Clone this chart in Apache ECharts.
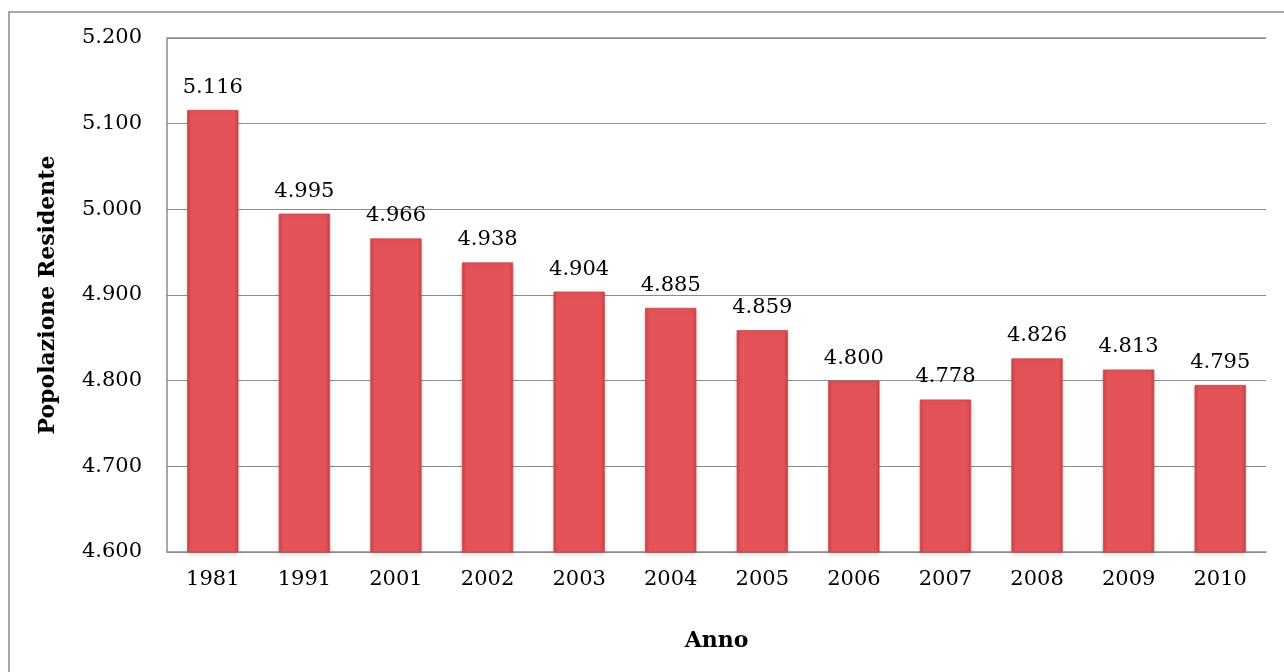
<!DOCTYPE html>
<html>
<head>
<meta charset="utf-8">
<script src="https://cdn.jsdelivr.net/npm/echarts@6/dist/echarts.min.js"></script>
<style>
  html, body { margin: 0; padding: 0; background: #fff; }
  #chart { width: 1284px; height: 672px; }
</style>
</head>
<body>
<div id="chart"></div>
<script>
// dati
const anni = ['1981', '1991', '2001', '2002', '2003', '2004', '2005', '2006', '2007', '2008', '2009', '2010'];
const popolazione = [5116, 4995, 4966, 4938, 4904, 4885, 4859, 4800, 4778, 4826, 4813, 4795];

const yMin = 4600;
const yMax = 5200;
const yStep = 100;

// formato italiano: 5116 -> "5.116"
function fmt(v) {
  return String(v).replace(/\B(?=(\d{3})+(?!\d))/g, '.');
}

const font = '"DejaVu Serif", "Liberation Serif", serif';

const chart = echarts.init(document.getElementById('chart'));

chart.setOption({
  backgroundColor: '#fff',
  animation: false,
  grid: { left: 167, right: 18, top: 38, bottom: 120, containLabel: false },
  // cornice esterna
  graphic: [{
    type: 'rect',
    shape: { x: 9, y: 12, width: 1300, height: 700 },
    style: { fill: 'none', stroke: '#8c8c8c', lineWidth: 1.5 },
    silent: true
  }, {
    type: 'line',
    shape: { x1: 167, y1: 38, x2: 1266, y2: 38 },
    style: { stroke: '#8c8c8c', lineWidth: 1.5 },
    silent: true
  }],
  xAxis: {
    type: 'category',
    data: anni,
    name: 'Anno',
    nameLocation: 'middle',
    nameGap: 78,
    nameTextStyle: { fontFamily: font, fontWeight: 'bold', fontSize: 22, color: '#000' },
    axisLine: { lineStyle: { color: '#8c8c8c', width: 1.5 } },
    axisTick: { show: false },
    axisLabel: { fontFamily: font, fontSize: 21, color: '#000', margin: 17 }
  },
  yAxis: {
    type: 'value',
    min: yMin,
    max: yMax,
    interval: yStep,
    name: 'Popolazione Residente',
    nameLocation: 'middle',
    nameGap: 108,
    nameTextStyle: { fontFamily: font, fontWeight: 'bold', fontSize: 22, color: '#000' },
    axisLine: { show: true, lineStyle: { color: '#8c8c8c', width: 1.5 } },
    axisTick: { show: false },
    axisLabel: { fontFamily: font, fontSize: 21, color: '#000', margin: 25, formatter: fmt },
    splitLine: { lineStyle: { color: '#8c8c8c', width: 1.2 } }
  },
  series: [{
    type: 'bar',
    data: popolazione,
    barWidth: '56%',
    itemStyle: {
      color: new echarts.graphic.LinearGradient(0, 0, 1, 0, [
        { offset: 0, color: '#cf4347' },
        { offset: 0.08, color: '#e35357' },
        { offset: 0.92, color: '#e35357' },
        { offset: 1, color: '#cf4347' }
      ]),
      borderColor: '#c9494b',
      borderWidth: 0.8,
      shadowColor: 'rgba(0,0,0,0.15)',
      shadowBlur: 4,
      shadowOffsetY: 2
    },
    label: {
      show: true,
      position: 'top',
      distance: 12,
      fontFamily: font,
      fontSize: 21,
      color: '#000',
      formatter: p => fmt(p.value)
    }
  }]
});
</script>
</body>
</html>
